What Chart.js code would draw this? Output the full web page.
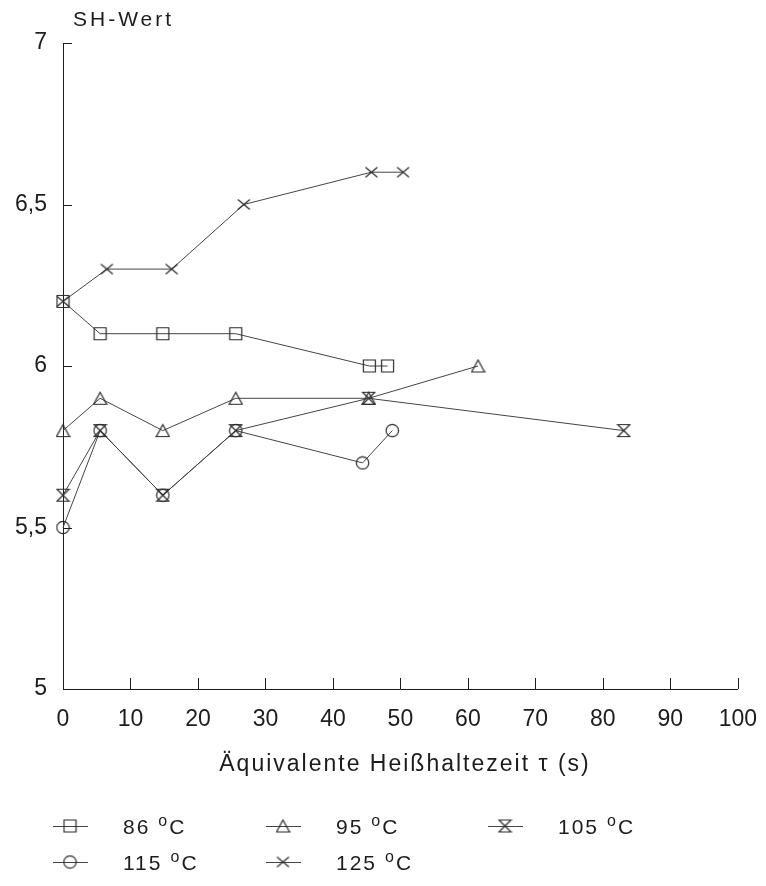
<!DOCTYPE html>
<html>
<head>
<meta charset="utf-8">
<script src="https://cdn.jsdelivr.net/npm/chart.js@4/dist/chart.umd.min.js"></script>
<style>
  html, body { margin: 0; padding: 0; background: #fff; }
  #wrap { width: 766px; height: 886px; position: relative; }
</style>
</head>
<body>
<div id="wrap"><canvas id="chart" width="766" height="886"></canvas></div>
<script>
// =====================================================
// DATA
// =====================================================
const xTicks = [0, 10, 20, 30, 40, 50, 60, 70, 80, 90, 100];
const yTicks = [5, 5.5, 6, 6.5, 7];

const seriesLabels = ['86', '95', '105', '115', '125'];

const t86  = [0, 5.5, 14.8, 25.6, 45.4, 48.1];
const sh86 = [6.2, 6.1, 6.1, 6.1, 6.0, 6.0];

const t95  = [0, 5.5, 14.8, 25.6, 45.3, 61.5];
const sh95 = [5.8, 5.9, 5.8, 5.9, 5.9, 6.0];

const t105  = [0, 5.5, 14.8, 25.6, 45.3, 83.1];
const sh105 = [5.6, 5.8, 5.6, 5.8, 5.9, 5.8];

const t115  = [0, 5.5, 14.8, 25.6, 44.4, 48.8];
const sh115 = [5.5, 5.8, 5.6, 5.8, 5.7, 5.8];

const t125  = [0, 6.5, 16.1, 26.8, 45.7, 50.4];
const sh125 = [6.2, 6.3, 6.3, 6.5, 6.6, 6.6];

const FONT = '"Liberation Sans", Arial, sans-serif';
const INK = '#1c1c1c';
const AXIS_BOTTOM = 689;

// =====================================================
// MARKERS (small canvases used as pointStyle)
// =====================================================
function makeMarker(draw) {
    const c = document.createElement('canvas');
    c.width = 15; c.height = 15;
    const g = c.getContext('2d');
    g.strokeStyle = '#2a2a2a';
    g.lineWidth = 1.2;
    g.beginPath();
    draw(g);
    g.stroke();
    return c;
}
const mSquare = makeMarker(g => { g.rect(1.5, 1.5, 12, 12); });
const mTriangle = makeMarker(g => { g.moveTo(7.5, 1.5); g.lineTo(14, 13.5); g.lineTo(1, 13.5); g.closePath(); });
const mHourglass = makeMarker(g => { g.moveTo(1.5, 1.5); g.lineTo(13.5, 1.5); g.lineTo(1.5, 13.5); g.lineTo(13.5, 13.5); g.closePath(); });
const mCircle = makeMarker(g => { g.arc(7.5, 7.5, 6.2, 0, Math.PI * 2); });
const mCross = makeMarker(g => { g.moveTo(1.5, 2.5); g.lineTo(13.5, 12.5); g.moveTo(13.5, 2.5); g.lineTo(1.5, 12.5); });

function pts(xs, ys) { return xs.map((x, i) => ({ x: x, y: ys[i] })); }

function ds(label, xs, ys, marker) {
    return {
        label: label,
        data: pts(xs, ys),
        borderColor: '#444',
        borderWidth: 1,
        pointStyle: marker,
        pointRadius: 7,
        pointHoverRadius: 7,
        tension: 0,
        fill: false,
        clip: false
    };
}

const datasets = [
    ds(seriesLabels[0], t86, sh86, mSquare),
    ds(seriesLabels[1], t95, sh95, mTriangle),
    ds(seriesLabels[2], t105, sh105, mHourglass),
    ds(seriesLabels[3], t115, sh115, mCircle),
    ds(seriesLabels[4], t125, sh125, mCross)
];

// =====================================================
// PLUGIN: inward ticks, titles, legend
// =====================================================
const decorPlugin = {
    id: 'decor',
    afterDraw(chart) {
        const ctx = chart.ctx;
        const xs = chart.scales.x, ys = chart.scales.y;
        const area = chart.chartArea;
        ctx.save();
        ctx.strokeStyle = INK;
        ctx.lineWidth = 1;
        ctx.beginPath();
        xTicks.forEach(v => {
            if (v === 0) return;
            const px = Math.round(xs.getPixelForValue(v)) + 0.5;
            ctx.moveTo(px, area.bottom);
            ctx.lineTo(px, area.bottom - 11);
        });
        yTicks.forEach(v => {
            if (v === 5) return;
            const py = Math.round(ys.getPixelForValue(v)) + 0.5;
            ctx.moveTo(area.left, py);
            ctx.lineTo(area.left + 9, py);
        });
        ctx.stroke();

        // axis titles
        ctx.fillStyle = INK;
        ctx.textBaseline = 'alphabetic';
        ctx.font = '21px ' + FONT;
        ctx.textAlign = 'left';
        ctx.letterSpacing = '3px';
        ctx.fillText('SH-Wert', 73, 26);
        ctx.font = '23px ' + FONT;
        ctx.letterSpacing = '2px';
        ctx.textAlign = 'center';
        ctx.fillText('Äquivalente Heißhaltezeit τ (s)', 405, 771);

        // legend, 3 columns
        const cols = [70, 283, 505];
        const rows = [826, 862];
        chart.data.datasets.forEach((d, i) => {
            const cx = cols[i % 3], cy = rows[Math.floor(i / 3)];
            ctx.strokeStyle = '#444';
            ctx.beginPath();
            ctx.moveTo(cx - 17, cy + 0.5);
            ctx.lineTo(cx + 18, cy + 0.5);
            ctx.stroke();
            const m = d.pointStyle;
            ctx.drawImage(m, cx - m.width / 2, cy - m.height / 2);

            ctx.textAlign = 'left';
            ctx.letterSpacing = '2px';
            ctx.font = '21px ' + FONT;
            let tx = cx + 53;
            ctx.fillText(d.label, tx, cy + 8);
            tx += ctx.measureText(d.label).width + 8;
            ctx.font = '16px ' + FONT;
            ctx.fillText('o', tx, cy);
            tx += ctx.measureText('o').width;
            ctx.font = '21px ' + FONT;
            ctx.fillText('C', tx, cy + 8);
        });
        ctx.restore();
    }
};

// =====================================================
// CHART
// =====================================================
new Chart(document.getElementById('chart'), {
    type: 'line',
    data: { datasets: datasets },
    options: {
        responsive: false,
        animation: false,
        layout: { padding: { top: 43, right: 26, left: 0, bottom: 0 } },
        plugins: { legend: { display: false }, tooltip: { enabled: false } },
        scales: {
            x: {
                type: 'linear',
                min: 0, max: 100,
                afterFit(s) { s.height = 886 - AXIS_BOTTOM; },
                afterBuildTicks(s) { s.ticks = xTicks.map(v => ({ value: v })); },
                grid: { display: false },
                border: { display: true, color: INK, width: 1 },
                ticks: { color: INK, padding: 9, maxRotation: 0, autoSkip: false, font: { family: FONT, size: 23 } }
            },
            y: {
                min: 5, max: 7,
                afterFit(s) { s.width = 63; },
                afterBuildTicks(s) { s.ticks = yTicks.map(v => ({ value: v })); },
                grid: { display: false },
                border: { display: true, color: INK, width: 1 },
                ticks: {
                    color: INK, padding: 8, font: { family: FONT, size: 23 },
                    callback: v => String(v).replace('.', ',')
                }
            }
        }
    },
    plugins: [decorPlugin]
});
</script>
</body>
</html>
